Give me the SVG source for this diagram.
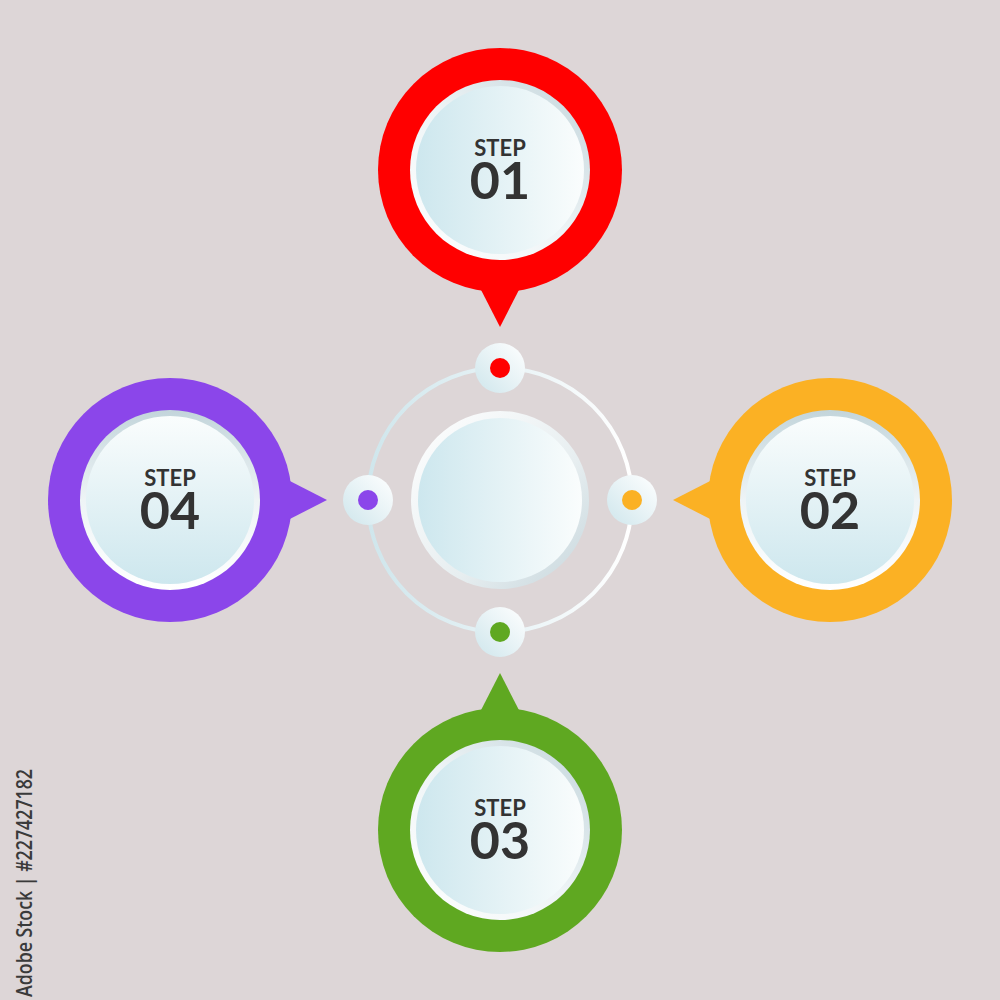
<svg xmlns="http://www.w3.org/2000/svg" width="1000" height="1000" viewBox="0 0 1000 1000">
<defs>
<linearGradient id="faceH" x1="0" y1="0" x2="1" y2="0"><stop offset="0" stop-color="#cde7ee"/><stop offset="0.55" stop-color="#e6f3f6"/><stop offset="1" stop-color="#fafdfd"/></linearGradient>
<linearGradient id="faceV" x1="0" y1="0" x2="0" y2="1"><stop offset="0" stop-color="#fafdfd"/><stop offset="0.45" stop-color="#e6f3f6"/><stop offset="1" stop-color="#cde7ee"/></linearGradient>
<linearGradient id="rimH" x1="0" y1="1" x2="1" y2="0"><stop offset="0" stop-color="#ffffff"/><stop offset="0.5" stop-color="#eef4f6"/><stop offset="1" stop-color="#c3d5db"/></linearGradient>
<linearGradient id="rimV" x1="0" y1="1" x2="0" y2="0"><stop offset="0" stop-color="#ffffff"/><stop offset="0.5" stop-color="#eef4f6"/><stop offset="1" stop-color="#c3d5db"/></linearGradient>
<linearGradient id="ringG" x1="0" y1="0" x2="1" y2="0"><stop offset="0" stop-color="#cfe6ec"/><stop offset="1" stop-color="#ffffff"/></linearGradient>
<linearGradient id="nodeG" x1="0" y1="1" x2="1" y2="0"><stop offset="0" stop-color="#cfe6ec"/><stop offset="1" stop-color="#ffffff"/></linearGradient>
<linearGradient id="centerRim" x1="0" y1="0" x2="1" y2="1"><stop offset="0" stop-color="#ffffff"/><stop offset="0.6" stop-color="#e7eef0"/><stop offset="1" stop-color="#c6d6dc"/></linearGradient>
</defs>
<style>
.step{font-family:Lato,"Open Sans","Liberation Sans",sans-serif;font-weight:700;fill:#333333;text-anchor:middle}
.s1{font-size:22px}
.s2{font-size:52px}
.nodeBg{fill:url(#nodeG)}
</style>
<rect width="1000" height="1000" fill="#ddd6d7"/>

<g id="connectors">
<circle cx="500" cy="500" r="132" fill="none" stroke="url(#ringG)" stroke-width="4"/>
</g>

<g id="center">
<circle cx="500" cy="500" r="89" fill="url(#centerRim)"/>
<circle cx="500" cy="500" r="82" fill="url(#faceH)"/>
</g>

<g id="dot-top"><circle class="nodeBg" cx="500" cy="368" r="25"/><circle cx="500" cy="368" r="10" fill="#ff0000"/></g>
<g id="dot-right"><circle class="nodeBg" cx="632" cy="500" r="25"/><circle cx="632" cy="500" r="10" fill="#fbb124"/></g>
<g id="dot-bottom"><circle class="nodeBg" cx="500" cy="632" r="25"/><circle cx="500" cy="632" r="10" fill="#5fa821"/></g>
<g id="dot-left"><circle class="nodeBg" cx="368" cy="500" r="25"/><circle cx="368" cy="500" r="10" fill="#8b46ea"/></g>

<g id="step1">
<circle cx="500" cy="170" r="122" fill="#ff0000"/>
<polygon points="478,284 522,284 500,327" fill="#ff0000"/>
<circle cx="500" cy="170" r="90" fill="url(#rimH)"/>
<circle cx="500" cy="170" r="84" fill="url(#faceH)"/>
<text class="step"><tspan class="s1" x="500" y="156">STEP</tspan><tspan class="s2" x="500" y="199">01</tspan></text>
</g>

<g id="step2">
<circle cx="830" cy="500" r="122" fill="#fbb124"/>
<polygon points="716,478 716,522 673,500" fill="#fbb124"/>
<circle cx="830" cy="500" r="90" fill="url(#rimV)"/>
<circle cx="830" cy="500" r="84" fill="url(#faceV)"/>
<text class="step"><tspan class="s1" x="830" y="486">STEP</tspan><tspan class="s2" x="830" y="529">02</tspan></text>
</g>

<g id="step3">
<circle cx="500" cy="830" r="122" fill="#5fa821"/>
<polygon points="478,716 522,716 500,673" fill="#5fa821"/>
<circle cx="500" cy="830" r="90" fill="url(#rimH)"/>
<circle cx="500" cy="830" r="84" fill="url(#faceH)"/>
<text class="step"><tspan class="s1" x="500" y="816">STEP</tspan><tspan class="s2" x="500" y="859">03</tspan></text>
</g>

<g id="step4">
<circle cx="170" cy="500" r="122" fill="#8b46ea"/>
<polygon points="284,478 284,522 327,500" fill="#8b46ea"/>
<circle cx="170" cy="500" r="90" fill="url(#rimV)"/>
<circle cx="170" cy="500" r="84" fill="url(#faceV)"/>
<text class="step"><tspan class="s1" x="170" y="486">STEP</tspan><tspan class="s2" x="170" y="529">04</tspan></text>
</g>

<text transform="translate(32,997) rotate(-90)" x="0" y="0" font-family="'Open Sans','Liberation Sans',sans-serif" font-size="22" font-weight="600" fill="#3a3a3a" textLength="228" lengthAdjust="spacingAndGlyphs">Adobe Stock | #227427182</text>
</svg>
